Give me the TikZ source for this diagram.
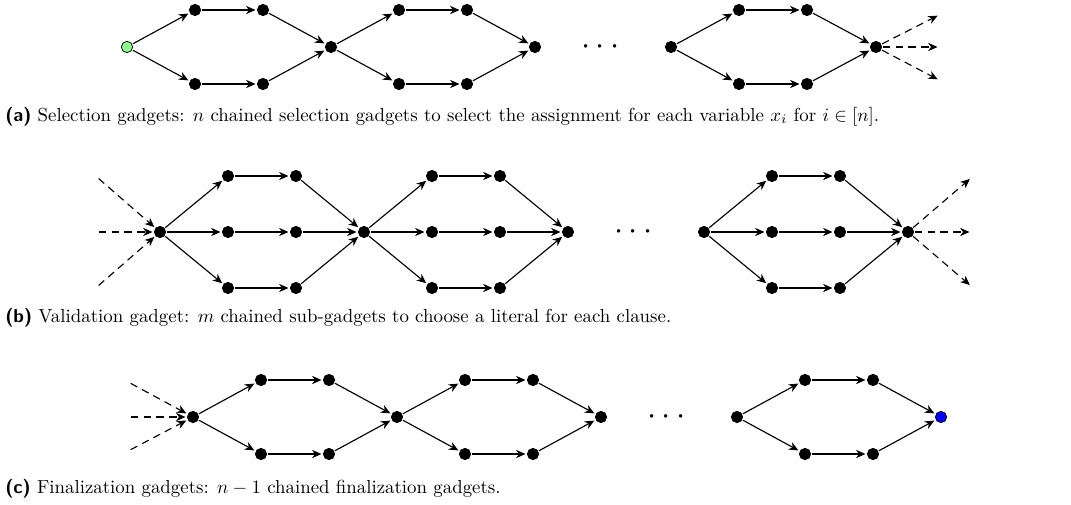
\documentclass[tikz,border=0pt]{standalone}
\usepackage{amsmath}
\usetikzlibrary{arrows.meta}
\tikzset{
  dot/.style={circle, fill=black, draw=black, inner sep=0pt, minimum size=6pt},
  startdot/.style={dot, fill=green!45, line width=0.4pt},
  enddot/.style={dot, fill=blue, line width=0.4pt},
  arr/.style={line width=0.6pt, -{Stealth[length=5pt, width=4.4pt, inset=1.6pt]}, shorten >=0.8pt, shorten <=0.4pt},
  darr/.style={arr, dash pattern=on 4pt off 2.8pt},
  dotsnode/.style={inner sep=0pt, font=\LARGE},
  captext/.style={anchor=base west, inner sep=0pt, font=\normalsize},
}
\begin{document}
\begin{tikzpicture}[x=0.53pt, y=-0.53pt]
\useasboundingbox (0,0) rectangle (1071,505);
% ---------- Row (a) ----------
\def\ya{47}\def\yat{10}\def\yab{84}
\node[startdot] (a0) at (127,\ya) {};
\foreach \k/\x in {1/195,2/263,4/399,5/467,9/739,10/807}{
  \node[dot] (a\k t) at (\x,\yat) {};
  \node[dot] (a\k b) at (\x,\yab) {};
}
\node[dot] (a3) at (331,\ya) {};
\node[dot] (a6) at (535,\ya) {};
\node[dot] (a8) at (671,\ya) {};
\node[dot] (a11) at (876,\ya) {};
\node[dotsnode] (adots) at (603,\ya) {$\cdots$};
\foreach \s/\a/\b/\e in {0/1/2/3, 3/4/5/6, 8/9/10/11}{
  \draw[arr] (a\s) -- (a\a t);
  \draw[arr] (a\s) -- (a\a b);
  \draw[arr] (a\a t) -- (a\b t);
  \draw[arr] (a\a b) -- (a\b b);
  \draw[arr] (a\b t) -- (a\e);
  \draw[arr] (a\b b) -- (a\e);
}
\coordinate (aoutt) at (939,15);
\coordinate (aoutm) at (939,47);
\coordinate (aoutb) at (939,80);
\draw[darr] (a11) -- (aoutt);
\draw[darr] (a11) -- (aoutm);
\draw[darr] (a11) -- (aoutb);
\node[captext] (capa) at (5,121) {\textsf{\textbf{(a)}} Selection gadgets: $n$ chained selection gadgets to select the assignment for each variable $x_i$ for $i \in [n]$.};
% ---------- Row (b) ----------
\def\yb{232}\def\ybt{176}\def\ybb{288}
\node[dot] (b0) at (160,\yb) {};
\foreach \k/\x in {1/228,2/296,4/432,5/500,9/772,10/840}{
  \node[dot] (b\k t) at (\x,\ybt) {};
  \node[dot] (b\k m) at (\x,\yb) {};
  \node[dot] (b\k b) at (\x,\ybb) {};
}
\node[dot] (b3) at (364,\yb) {};
\node[dot] (b6) at (568,\yb) {};
\node[dot] (b8) at (704,\yb) {};
\node[dot] (b11) at (908,\yb) {};
\node[dotsnode] (bdots) at (636,\yb) {$\cdots$};
\foreach \s/\a/\b/\e in {0/1/2/3, 3/4/5/6, 8/9/10/11}{
  \foreach \r in {t,m,b}{
    \draw[arr] (b\s) -- (b\a\r);
    \draw[arr] (b\a\r) -- (b\b\r);
    \draw[arr] (b\b\r) -- (b\e);
  }
}
\coordinate (bint) at (98,178);
\coordinate (binm) at (98,232);
\coordinate (binb) at (98,286);
\draw[darr] (bint) -- (b0);
\draw[darr] (binm) -- (b0);
\draw[darr] (binb) -- (b0);
\coordinate (boutt) at (971,178);
\coordinate (boutm) at (971,232);
\coordinate (boutb) at (971,286);
\draw[darr] (b11) -- (boutt);
\draw[darr] (b11) -- (boutm);
\draw[darr] (b11) -- (boutb);
\node[captext] (capb) at (5,322) {\textsf{\textbf{(b)}} Validation gadget: $m$ chained sub-gadgets to choose a literal for each clause.};
% ---------- Row (c) ----------
\def\yc{417}\def\yct{380}\def\ycb{454}
\node[dot] (c0) at (193,\yc) {};
\foreach \k/\x in {1/261,2/329,4/465,5/533,9/805,10/873}{
  \node[dot] (c\k t) at (\x,\yct) {};
  \node[dot] (c\k b) at (\x,\ycb) {};
}
\node[dot] (c3) at (397,\yc) {};
\node[dot] (c6) at (601,\yc) {};
\node[dot] (c8) at (737,\yc) {};
\node[enddot] (c11) at (941,\yc) {};
\node[dotsnode] (cdots) at (669,\yc) {$\cdots$};
\foreach \s/\a/\b/\e in {0/1/2/3, 3/4/5/6, 8/9/10/11}{
  \draw[arr] (c\s) -- (c\a t);
  \draw[arr] (c\s) -- (c\a b);
  \draw[arr] (c\a t) -- (c\b t);
  \draw[arr] (c\a b) -- (c\b b);
  \draw[arr] (c\b t) -- (c\e);
  \draw[arr] (c\b b) -- (c\e);
}
\coordinate (cint) at (130,383);
\coordinate (cinm) at (130,417);
\coordinate (cinb) at (130,450);
\draw[darr] (cint) -- (c0);
\draw[darr] (cinm) -- (c0);
\draw[darr] (cinb) -- (c0);
\node[captext] (capc) at (5,493) {\textsf{\textbf{(c)}} Finalization gadgets: $n-1$ chained finalization gadgets.};
\end{tikzpicture}
\end{document}
